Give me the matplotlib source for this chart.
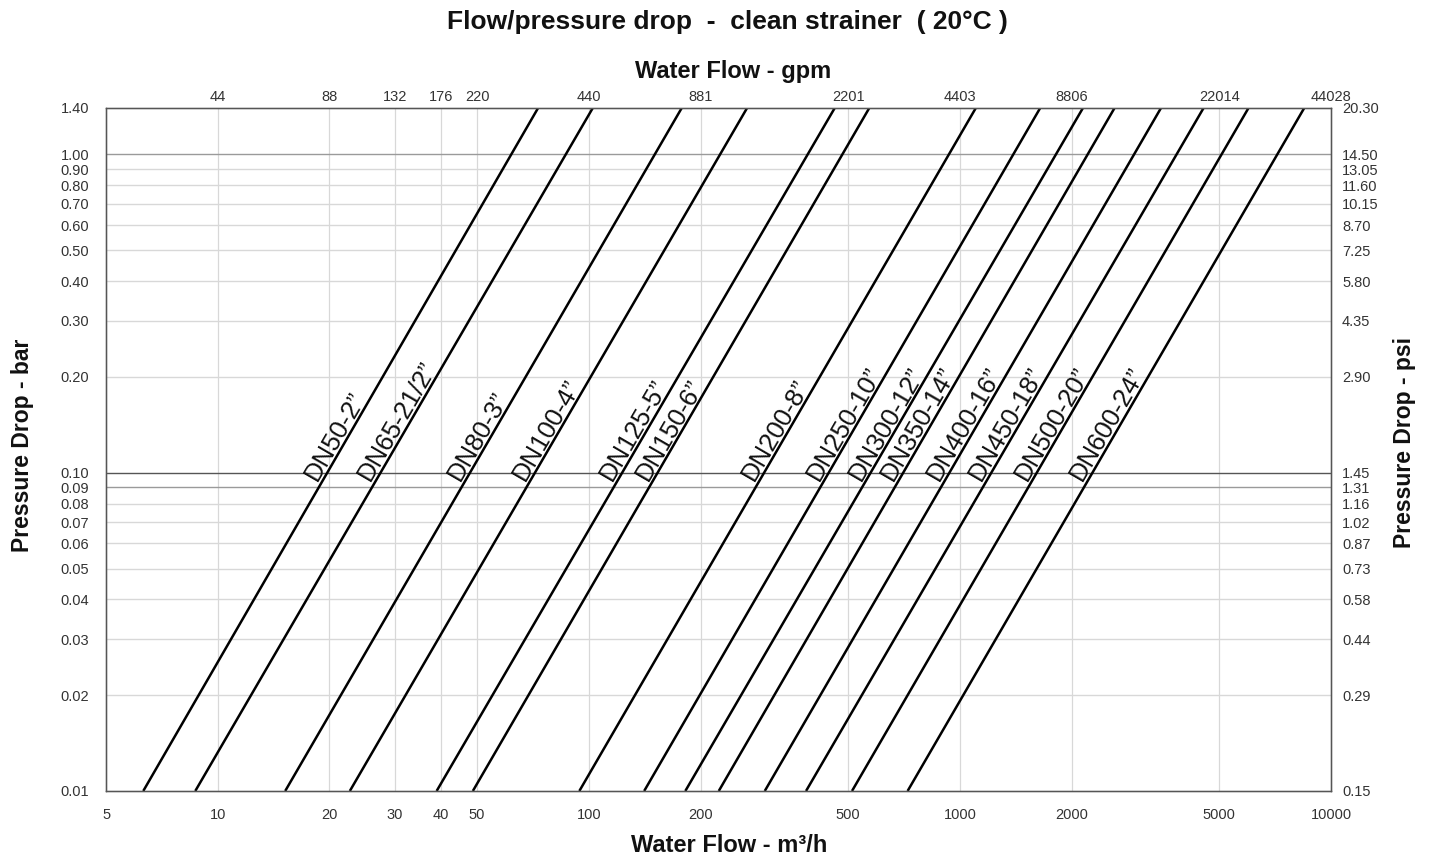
import matplotlib.pyplot as plt
import numpy as np
from matplotlib import transforms

plt.rcParams['font.family'] = ['Liberation Sans', 'DejaVu Sans']

# strainer sizes and flow (m3/h) read at 0.01 bar and at 1.40 bar
sizes = ['DN50-2”', 'DN65-21/2”', 'DN80-3”', 'DN100-4”', 'DN125-5”', 'DN150-6”',
         'DN200-8”', 'DN250-10”', 'DN300-12”', 'DN350-14”', 'DN400-16”',
         'DN450-18”', 'DN500-20”', 'DN600-24”']
flow_low = [6.3, 8.7, 15.2, 22.7, 38.9, 48.7, 94.3, 141, 182, 224, 298, 385, 512, 723]
flow_high = [73, 102.5, 178, 267, 460, 570, 1104, 1646, 2146, 2611, 3483, 4537, 5995, 8472]
dp_low = 0.01
dp_high = 1.40

# axis ticks
bar_ticks = [0.01, 0.02, 0.03, 0.04, 0.05, 0.06, 0.07, 0.08, 0.09, 0.10,
             0.20, 0.30, 0.40, 0.50, 0.60, 0.70, 0.80, 0.90, 1.00, 1.40]
bar_labels = ['0.01', '0.02', '0.03', '0.04', '0.05', '0.06', '0.07', '0.08', '0.09', '0.10',
              '0.20', '0.30', '0.40', '0.50', '0.60', '0.70', '0.80', '0.90', '1.00', '1.40']
psi_labels = ['0.15', '0.29', '0.44', '0.58', '0.73', '0.87', '1.02', '1.16', '1.31', '1.45',
              '2.90', '4.35', '5.80', '7.25', '8.70', '10.15', '11.60', '13.05', '14.50', '20.30']
flow_ticks = [5, 10, 20, 30, 40, 50, 100, 200, 500, 1000, 2000, 5000, 10000]
flow_labels = ['5', '10', '20', '30', '40', '50', '100', '200', '500', '1000', '2000', '5000', '10000']
gpm_ticks = [10, 20, 30, 40, 50, 100, 200, 500, 1000, 2000, 5000, 10000]
gpm_labels = ['44', '88', '132', '176', '220', '440', '881', '2201', '4403', '8806', '22014', '44028']

label_dp = 0.092

fig = plt.figure(figsize=(14.29, 8.59), dpi=100)
ax = fig.add_axes([0.0742, 0.0792, 0.8572, 0.7951])
ax.set_xscale('log')
ax.set_yscale('log')
ax.set_xlim(5, 10000)
ax.set_ylim(0.01, 1.40)

tick_color = '#333333'
ax.set_xticks(flow_ticks)
ax.set_xticklabels(flow_labels)
ax.set_yticks(bar_ticks)
ax.set_yticklabels(bar_labels)
ax.minorticks_off()
ax.tick_params(axis='x', length=0, pad=12, labelsize=10.5, labelcolor=tick_color)
ax.tick_params(axis='y', length=0, pad=12, labelsize=10.5, labelcolor=tick_color)

# grid
for t in flow_ticks[1:-1]:
    ax.axvline(t, color='#d8d8d8', lw=0.9, zorder=0)
for t in bar_ticks[1:-1]:
    c = '#d8d8d8'
    if t == 0.10:
        c = '#555555'
    elif t in (1.00, 0.09):
        c = '#9a9a9a'
    ax.axhline(t, color=c, lw=1.0, zorder=0)

for s in ax.spines.values():
    s.set_color('#555555')
    s.set_linewidth(1.0)

# strainer lines
for name, q1, q2 in zip(sizes, flow_low, flow_high):
    ax.plot([q1, q2], [dp_low, dp_high], color='black', lw=1.8, solid_capstyle='butt')

fig.canvas.draw()
for name, q1, q2 in zip(sizes, flow_low, flow_high):
    p1 = ax.transData.transform((q1, dp_low))
    p2 = ax.transData.transform((q2, dp_high))
    ang = np.degrees(np.arctan2(p2[1] - p1[1], p2[0] - p1[0]))
    frac = (np.log10(label_dp) - np.log10(dp_low)) / (np.log10(dp_high) - np.log10(dp_low))
    q = 10 ** (np.log10(q1) + frac * (np.log10(q2) - np.log10(q1)))
    r = np.radians(ang)
    off = 4
    tr = transforms.offset_copy(ax.transData, fig=fig, x=-np.sin(r) * off, y=np.cos(r) * off, units='dots')
    ax.text(q, label_dp, name, rotation=ang, rotation_mode='anchor', ha='left', va='baseline',
            fontsize=18.5, color='#111111', transform=tr)

# top axis: gpm
axt = ax.twiny()
axt.set_xscale('log')
axt.set_xlim(ax.get_xlim())
axt.set_xticks(gpm_ticks)
axt.set_xticklabels(gpm_labels)
axt.minorticks_off()
axt.tick_params(axis='x', length=0, pad=3, labelsize=10.5, labelcolor=tick_color)

# right axis: psi
axr = ax.twinx()
axr.set_yscale('log')
axr.set_ylim(ax.get_ylim())
axr.set_yticks(bar_ticks)
axr.set_yticklabels(psi_labels)
axr.minorticks_off()
axr.tick_params(axis='y', length=0, pad=8, labelsize=10.5, labelcolor=tick_color)
for a in (axt, axr):
    for s in a.spines.values():
        s.set_color('#555555')

fig.text(0.509, 0.974, 'Flow/pressure drop  -  clean strainer  ( 20°C )', ha='center', va='center',
         fontsize=19, fontweight='bold', color='#111111')
fig.text(0.513, 0.917, 'Water Flow - gpm', ha='center', va='center',
         fontsize=17, fontweight='bold', color='#111111')
fig.text(0.51, 0.016, 'Water Flow - m³/h', ha='center', va='center',
         fontsize=17, fontweight='bold', color='#111111')
fig.text(0.016, 0.482, 'Pressure Drop - bar', ha='center', va='center', rotation=90,
         fontsize=16.5, fontweight='bold', color='#111111')
fig.text(0.983, 0.485, 'Pressure Drop - psi', ha='center', va='center', rotation=90,
         fontsize=16.5, fontweight='bold', color='#111111')

fig.savefig('out.png', dpi=100)
